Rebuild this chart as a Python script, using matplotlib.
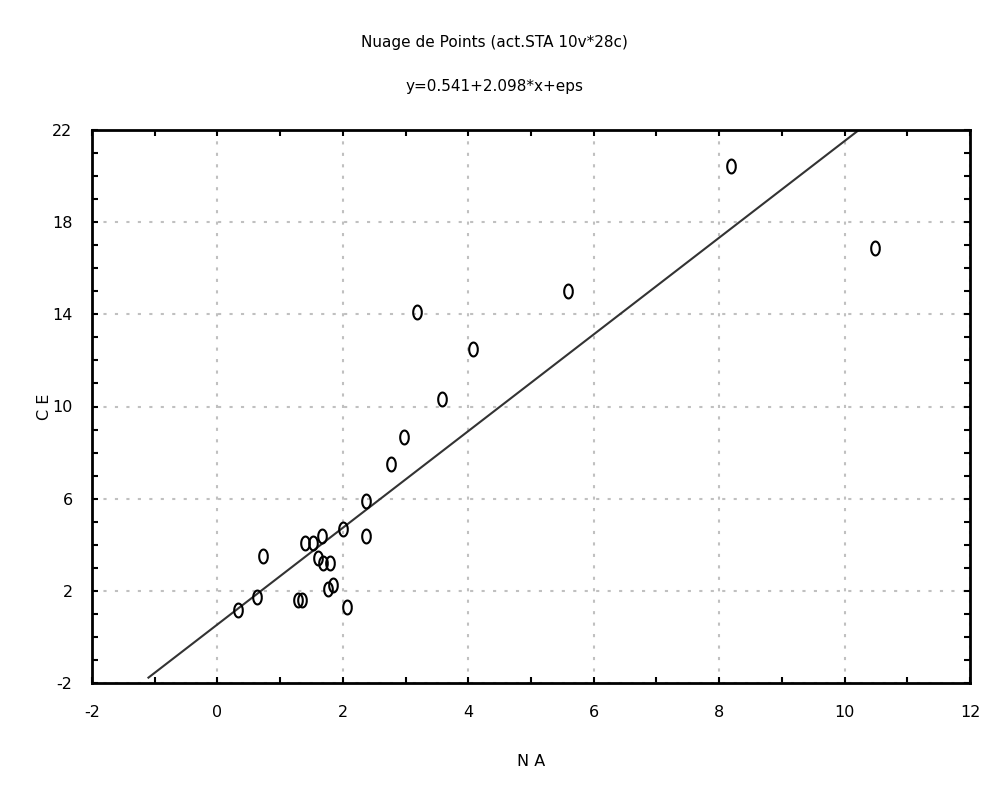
import numpy as np
import matplotlib
matplotlib.use("Agg")
import matplotlib.pyplot as plt
from matplotlib.path import Path
from matplotlib.ticker import MultipleLocator

plt.rcParams["axes.unicode_minus"] = False

# data
na = [8.19, 10.49, 5.59, 3.18, 4.08, 3.58, 2.98, 2.77, 2.37, 2.37, 2.00,
      0.73, 1.67, 1.40, 1.52, 1.60, 1.68, 1.80, 1.84, 1.76, 0.63, 1.35,
      1.29, 2.07, 0.33]
ce = [20.44, 16.88, 15.01, 14.10, 12.50, 10.32, 8.67, 7.50, 5.90, 4.38, 4.68,
      3.51, 4.38, 4.07, 4.07, 3.42, 3.20, 3.20, 2.25, 2.10, 1.73, 1.60,
      1.60, 1.30, 1.17]
intercept = 0.541
slope = 2.098
xticks = [-2, 0, 2, 4, 6, 8, 10, 12]
yticks = [-2, 2, 6, 10, 14, 18, 22]
title = "Nuage de Points (act.STA 10v*28c)"
subtitle = "y=0.541+2.098*x+eps"

fig = plt.figure(figsize=(9.89, 7.91), dpi=100)
ax = fig.add_axes([92/989, 1-683/791, (970-92)/989, (683-130)/791])

# elliptical marker
t = np.linspace(0, 2*np.pi, 40)
ell = Path(np.column_stack([0.62*np.cos(t), np.sin(t)]))

ax.plot(na, ce, linestyle="none", marker=ell, markersize=10,
        markerfacecolor="none", markeredgecolor="black", markeredgewidth=1.5,
        zorder=3)

xl = np.array([-1.1, (22 - intercept) / slope])
ax.plot(xl, intercept + slope * xl, color="#333333", lw=1.5, zorder=2)

ax.set_xlim(-2, 12)
ax.set_ylim(-2, 22)
ax.set_xticks(xticks)
ax.set_yticks(yticks)
ax.xaxis.set_minor_locator(MultipleLocator(1))
ax.yaxis.set_minor_locator(MultipleLocator(1))
ax.tick_params(which="both", direction="in", length=4, width=1.5,
               top=True, right=True, labelsize=11.5)
ax.tick_params(axis="x", pad=16)
ax.tick_params(axis="y", pad=14)
ax.grid(True, which="major", color="#c0c0c0", linestyle=(0, (1.5, 4)), lw=1.5)
for s in ax.spines.values():
    s.set_linewidth(2)

ax.set_xlabel("N A", fontsize=11.5, labelpad=24)
ax.set_ylabel("C E", fontsize=11.5, labelpad=0)

fig.text(0.5, 1-42/791, title, ha="center", va="center", fontsize=11)
fig.text(0.5, 1-87/791, subtitle, ha="center", va="center", fontsize=11)

fig.savefig("out.png", dpi=100)
